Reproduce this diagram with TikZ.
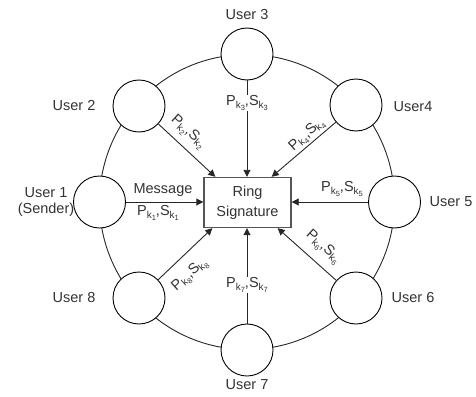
\documentclass[tikz,border=0pt]{standalone}
\usepackage{fontspec}
\setmainfont{Liberation Sans}
\usetikzlibrary{arrows.meta}
\definecolor{txt}{HTML}{333333}
\definecolor{boxline}{HTML}{555555}
\newcommand\kk[1]{\raisebox{-0.3ex}{\fontsize{10}{10}\selectfont k\raisebox{-0.35ex}{\fontsize{7.5}{7.5}\selectfont #1}}}
\newcommand\pair[1]{P\kk{#1},S\kk{#1}}
\begin{document}
\begin{tikzpicture}[x=1pt,y=-1pt,
  user/.style={circle,draw=black,fill=white,line width=0.9pt,minimum size=52pt,inner sep=0pt},
  lbl/.style={text=txt,font=\fontsize{14.5}{16}\selectfont,inner sep=1pt,align=center},
  onlbl/.style={lbl,fill=white},
  arr/.style={draw=black!85,line width=0.9pt,-{Triangle[length=7pt,width=7pt]}},
  ring/.style={draw=black!85,line width=0.9pt}]
\useasboundingbox (0,0) rectangle (476,396);
\coordinate (c) at (247,202);
\draw[ring] (c) circle (147.5);
\node[user] (u1) at (99.5,202) {};
\node[user] (u2) at (139,106) {};
\node[user] (u3) at (247,54) {};
\node[user] (u4) at (356,105) {};
\node[user] (u5) at (394.5,202) {};
\node[user] (u6) at (356,298) {};
\node[user] (u7) at (247,350) {};
\node[user] (u8) at (139,298) {};
\node[draw=boxline,line width=1.4pt,fill=white,minimum width=87pt,minimum height=50pt,inner sep=0pt,lbl,font=\fontsize{14.5}{20}\selectfont] (box) at (247.5,202.5) {Ring\\Signature};
% labels of users
\node[lbl] (n1) at (46,202) {User 1\\(Sender)};
\node[lbl] (n2) at (74,105.5) {User 2};
\node[lbl] (n3) at (247,15) {User 3};
\node[lbl] (n4) at (413,107) {User4};
\node[lbl] (n5) at (451,202) {User 5};
\node[lbl] (n6) at (413,298) {User 6};
\node[lbl] (n7) at (247,385) {User 7};
\node[lbl] (n8) at (74,298) {User 8};
% arrows
\draw[arr] (u1) -- (box.west |- u1);
\draw[arr] (u5) -- (box.east |- u5);
\draw[arr] (u3) -- (box.north -| u3);
\draw[arr] (u7) -- (box.south -| u7);
\draw[arr] (u2) -- ([xshift=12pt]box.north west);
\draw[arr] (u4) -- ([xshift=-20pt]box.north east);
\draw[arr] (u8) -- ([xshift=9pt]box.south west);
\draw[arr] (u6) -- ([xshift=-14pt]box.south east);
% edge labels
\node[lbl] (m) at (163,190) {Message};
\node[lbl] (p1) at (158,213) {\pair{1}};
\node[onlbl] (p3) at (247,103) {\pair{3}};
\node[onlbl] (p7) at (247,285) {\pair{7}};
\node[lbl] (p5) at (342,189) {\pair{5}};
\node[lbl,rotate=-42] (p2) at (188,132) {\pair{2}};
\node[lbl,rotate=42] (p4) at (307,135) {\pair{4}};
\node[lbl,rotate=42] (p8) at (190,275) {\pair{8}};
\node[lbl,rotate=-42] (p6) at (323,247) {\pair{6}};
\end{tikzpicture}
\end{document}
